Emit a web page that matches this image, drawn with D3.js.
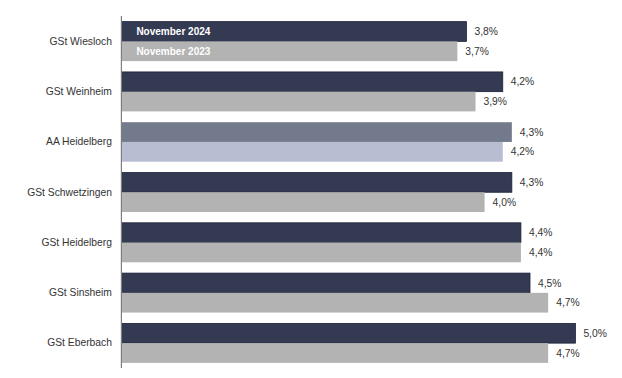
<!DOCTYPE html>
<html><head><meta charset="utf-8">
<script src="https://cdn.jsdelivr.net/npm/d3@7"></script>
<style>body{margin:0;background:#fff}svg{display:block}</style>
</head><body>
<svg id="c" width="622" height="378"></svg>
<script>
const categories = ["GSt Wiesloch","GSt Weinheim","AA Heidelberg","GSt Schwetzingen","GSt Heidelberg","GSt Sinsheim","GSt Eberbach"];
const seriesNames = ["November 2024","November 2023"];
const values2024 = [3.8,4.2,4.3,4.3,4.4,4.5,5.0];
const values2023 = [3.7,3.9,4.2,4.0,4.4,4.7,4.7];
const highlight = "AA Heidelberg";

const svg = d3.select("#c");
const font = "'Liberation Sans', Arial, sans-serif";
const x = d3.scaleLinear().domain([0,5]).range([121.4,575.4]);
const y = d3.scaleBand().domain(categories).range([16.2,368.3]).paddingInner(0.215).paddingOuter(0.108);
const sub = d3.scaleBand().domain(seriesNames).range([0,y.bandwidth()]);

const colors = {
  normal: ["#343a52","#b3b3b3"],
  hi: ["#737a8c","#b9bdd2"]
};
const strokes = {normal:["#1c2039","none"], hi:["none","none"]};

const rows = [];
categories.forEach((c,i)=>{
  rows.push({c, s:0, v:values2024[i]});
  rows.push({c, s:1, v:values2023[i]});
});

svg.selectAll("rect.bar").data(rows).join("rect")
  .attr("class","bar")
  .attr("x", x(0))
  .attr("y", d=>y(d.c)+sub(seriesNames[d.s]))
  .attr("width", d=>x(d.v)-x(0))
  .attr("height", sub.bandwidth())
  .attr("fill", d=>(d.c===highlight?colors.hi:colors.normal)[d.s])
  .attr("stroke", d=>(d.c===highlight?strokes.hi:strokes.normal)[d.s])
  .attr("stroke-width", 0.8);

svg.selectAll("text.val").data(rows).join("text")
  .attr("class","val")
  .attr("x", d=>x(d.v)+8)
  .attr("y", d=>y(d.c)+sub(seriesNames[d.s])+sub.bandwidth()/2)
  .attr("dy","0.35em")
  .attr("font-family", font).attr("font-size", 10.3).attr("fill","#333")
  .text(d=>d3.format(".1f")(d.v).replace(".",",")+"%");

// axis
const yAxis = d3.axisLeft(y).tickSize(0).tickPadding(9.5);
const g = svg.append("g").attr("transform",`translate(${x(0)},0)`).call(yAxis);
g.select(".domain").attr("stroke","#7f7f7f").attr("stroke-width",1.2).attr("d",`M0,${16}V${368}`);
g.selectAll(".tick text").attr("font-family",font).attr("font-size",10.3).attr("fill","#333");

// legend labels inside first group
const first = categories[0];
svg.selectAll("text.leg").data(seriesNames).join("text")
  .attr("class","leg")
  .attr("x", x(0)+15)
  .attr("y", (d)=>y(first)+sub(d)+sub.bandwidth()/2)
  .attr("dy","0.35em")
  .attr("font-family",font).attr("font-size",10)
  .attr("font-weight",(d,i)=>i===0?"bold":"bold")
  .attr("fill","#fff")
  .text(d=>d);
</script>
</body></html>
